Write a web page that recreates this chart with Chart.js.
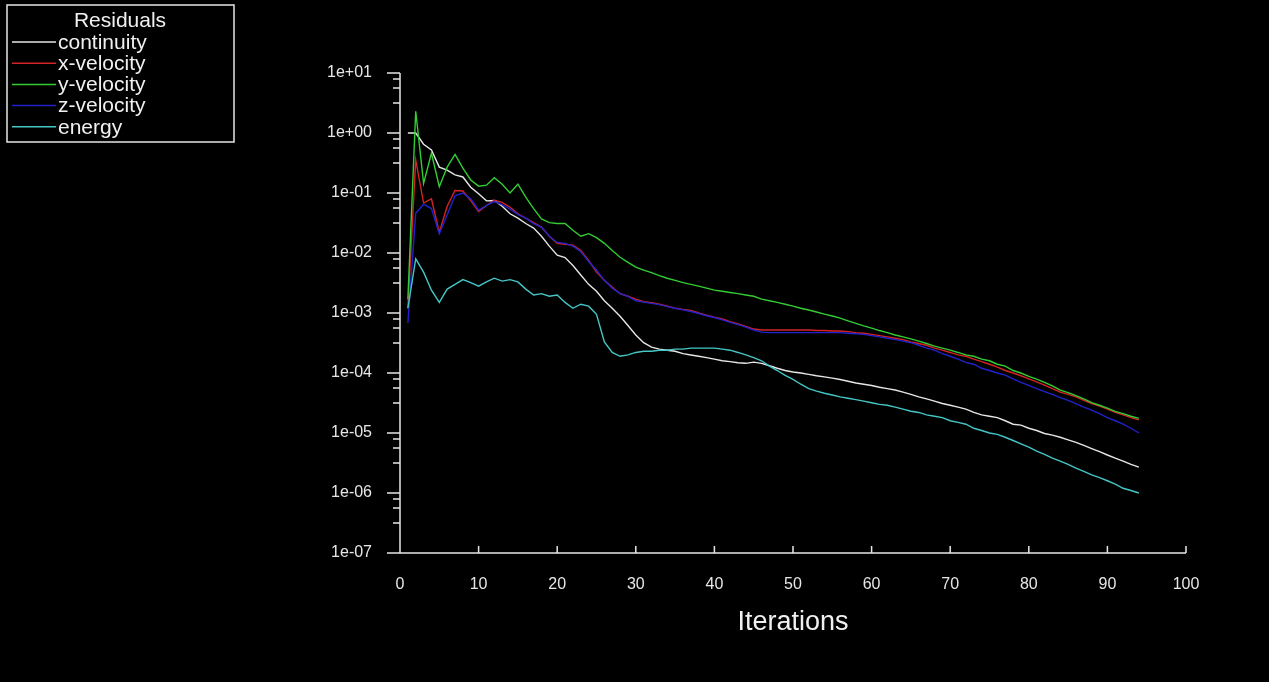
<!DOCTYPE html>
<html>
<head>
<meta charset="utf-8">
<script src="https://cdn.jsdelivr.net/npm/chart.js@4/dist/chart.umd.min.js"></script>
<style>
  html, body { margin: 0; padding: 0; background: #000; }
  #wrap { width: 1269px; height: 682px; }
</style>
</head>
<body>
<div id="wrap"><canvas id="residuals"></canvas></div>
<script>
// residual history, one value per iteration
var iterations = [1, 2, 3, 4, 5, 6, 7, 8, 9, 10, 11, 12, 13, 14, 15, 16, 17, 18, 19, 20,
  21, 22, 23, 24, 25, 26, 27, 28, 29, 30, 31, 32, 33, 34, 35, 36, 37, 38, 39, 40,
  41, 42, 43, 44, 45, 46, 47, 48, 49, 50, 51, 52, 53, 54, 55, 56, 57, 58, 59, 60,
  61, 62, 63, 64, 65, 66, 67, 68, 69, 70, 71, 72, 73, 74, 75, 76, 77, 78, 79, 80,
  81, 82, 83, 84, 85, 86, 87, 88, 89, 90, 91, 92, 93, 94];

var continuity = [1.0, 1.0, 0.65, 0.52, 0.27, 0.24, 0.2, 0.185, 0.125, 0.097,
  0.074, 0.075, 0.06, 0.045, 0.038, 0.031, 0.026, 0.019, 0.013, 0.0092,
  0.0084, 0.0062, 0.0043, 0.003, 0.0023, 0.0016, 0.0012, 0.00088, 0.00062, 0.00043,
  0.00032, 0.00027, 0.00025, 0.00024, 0.00023, 0.00021, 0.0002, 0.00019, 0.00018, 0.00017,
  0.00016, 0.000155, 0.000148, 0.000145, 0.000152, 0.000145, 0.000132, 0.00012, 0.00011, 0.000104,
  0.0001, 0.000095, 0.00009, 0.000086, 0.000082, 0.000078, 0.000073, 0.000068, 0.000065, 0.000062,
  0.000058, 0.000055, 0.000052, 0.000048, 0.000044, 0.00004, 0.000037, 0.000034, 0.000031, 0.000029,
  0.000027, 0.000025, 0.000022, 0.00002, 0.000019, 0.000018, 0.000016, 0.000014, 0.0000135, 0.000012,
  0.000011, 0.0000098, 0.0000092, 0.0000085, 0.0000077, 0.000007, 0.0000062, 0.0000055, 0.0000049, 0.0000043,
  0.0000038, 0.0000034, 0.000003, 0.0000027];

var xVelocity = [0.0012, 0.355, 0.068, 0.08, 0.022, 0.06, 0.11, 0.108, 0.075, 0.049,
  0.062, 0.076, 0.07, 0.058, 0.045, 0.038, 0.032, 0.027, 0.019, 0.0145,
  0.014, 0.0135, 0.011, 0.0075, 0.0048, 0.0035, 0.0027, 0.0021, 0.0019, 0.0017,
  0.00155, 0.00148, 0.0014, 0.0013, 0.0012, 0.00115, 0.0011, 0.001, 0.00092, 0.00085,
  0.0008, 0.00072, 0.00066, 0.0006, 0.00054, 0.00052, 0.00052, 0.00052, 0.00052, 0.00052,
  0.00052, 0.00052, 0.00051, 0.00051, 0.0005, 0.0005, 0.00049, 0.00047, 0.00046, 0.00044,
  0.00042, 0.0004, 0.00038, 0.00036, 0.00033, 0.00031, 0.00029, 0.00026, 0.00024, 0.00022,
  0.0002, 0.00019, 0.00017, 0.000155, 0.00014, 0.000125, 0.00011, 0.0001, 0.00009, 0.00008,
  0.000071, 0.000063, 0.000055, 0.000048, 0.000044, 0.00004, 0.000035, 0.000031, 0.000028, 0.000025,
  0.000022, 0.00002, 0.000018, 0.0000165];

var yVelocity = [0.0017, 2.3, 0.145, 0.46, 0.127, 0.27, 0.44, 0.26, 0.165, 0.13,
  0.135, 0.18, 0.14, 0.1, 0.14, 0.085, 0.055, 0.037, 0.032, 0.031,
  0.031, 0.024, 0.019, 0.021, 0.018, 0.0145, 0.011, 0.0085, 0.007, 0.0058,
  0.0052, 0.0047, 0.0042, 0.0038, 0.0035, 0.0032, 0.003, 0.0028, 0.0026, 0.0024,
  0.0023, 0.0022, 0.0021, 0.002, 0.0019, 0.0017, 0.0016, 0.0015, 0.0014, 0.0013,
  0.0012, 0.00112, 0.00104, 0.00096, 0.00089, 0.00082, 0.00074, 0.00067, 0.00061, 0.00056,
  0.00051, 0.00047, 0.00043, 0.0004, 0.00037, 0.00034, 0.00031, 0.00028, 0.00026, 0.00024,
  0.00022, 0.0002, 0.00019, 0.00017, 0.00016, 0.00014, 0.00013, 0.00011, 0.0001, 0.000088,
  0.000079, 0.00007, 0.000061, 0.000052, 0.000047, 0.000042, 0.000037, 0.000032, 0.000029, 0.000026,
  0.000023, 0.000021, 0.000019, 0.0000175];

var zVelocity = [0.00068, 0.046, 0.065, 0.055, 0.021, 0.043, 0.09, 0.1, 0.08, 0.052,
  0.062, 0.072, 0.064, 0.054, 0.044, 0.038, 0.031, 0.027, 0.019, 0.015,
  0.0145, 0.013, 0.0105, 0.0072, 0.0052, 0.0035, 0.0026, 0.0021, 0.0019, 0.0016,
  0.00152, 0.00145, 0.00138, 0.00128, 0.0012, 0.00113, 0.00106, 0.00098, 0.0009, 0.00084,
  0.00077, 0.0007, 0.00064, 0.00058, 0.00052, 0.00048, 0.00047, 0.00047, 0.00047, 0.00047,
  0.00047, 0.00047, 0.00047, 0.00047, 0.00047, 0.00047, 0.00046, 0.00045, 0.00044, 0.00042,
  0.0004, 0.00038, 0.00036, 0.00034, 0.00032, 0.00029, 0.00026, 0.00024, 0.00021, 0.00019,
  0.00017, 0.00015, 0.00014, 0.00012, 0.00011, 0.0001, 0.000092, 0.00008, 0.00007, 0.000062,
  0.000055, 0.000049, 0.000044, 0.000039, 0.000035, 0.000031, 0.000027, 0.000024, 0.000021, 0.000018,
  0.000016, 0.000014, 0.000012, 0.00001];

var energy = [0.0012, 0.008, 0.0048, 0.0024, 0.0015, 0.0025, 0.003, 0.0036, 0.0032, 0.0028,
  0.0033, 0.0038, 0.0034, 0.0036, 0.0033, 0.0025, 0.002, 0.0021, 0.0019, 0.002,
  0.0015, 0.0012, 0.0014, 0.0013, 0.00095, 0.00033, 0.00022, 0.00019, 0.0002, 0.00022,
  0.00023, 0.00023, 0.00024, 0.00024, 0.00025, 0.00025, 0.00026, 0.00026, 0.00026, 0.00026,
  0.00025, 0.00024, 0.00022, 0.0002, 0.00018, 0.00016, 0.00013, 0.00011, 0.000091, 0.000078,
  0.000065, 0.000055, 0.00005, 0.000046, 0.000043, 0.00004, 0.000038, 0.000036, 0.000034, 0.000032,
  0.00003, 0.000029, 0.000027, 0.000025, 0.000023, 0.000022, 0.00002, 0.000019, 0.000018, 0.000016,
  0.000015, 0.000014, 0.000012, 0.000011, 0.00001, 0.0000095, 0.0000085, 0.0000075, 0.0000066, 0.0000058,
  0.000005, 0.0000044, 0.0000038, 0.0000034, 0.000003, 0.0000026, 0.0000023, 0.000002, 0.0000018, 0.0000016,
  0.0000014, 0.0000012, 0.0000011, 0.000001];

var seriesNames = ['continuity', 'x-velocity', 'y-velocity', 'z-velocity', 'energy'];
var seriesColors = ['#e6e6e6', '#d42323', '#33cc33', '#2222cc', '#45c6c6'];
var xTicks = [0, 10, 20, 30, 40, 50, 60, 70, 80, 90, 100];
var decades = [1, 0, -1, -2, -3, -4, -5, -6, -7];

var FONT = "'Liberation Sans', Arial, sans-serif";

function points(values) {
    return iterations.map((it, i) => ({x: it, y: values[i]}));
}

function expLabel(v) {
    var e = Math.log10(v);
    var r = Math.round(e);
    if (Math.abs(e - r) > 1e-6) return '';
    var s = r < 0 ? '-' : '+';
    var a = Math.abs(r);
    return '1e' + s + (a < 10 ? '0' + a : a);
}

// black background, axis lines and tick marks
var axesPlugin = {
    id: 'axesPlugin',
    beforeDraw(chart) {
        var ctx = chart.ctx;
        ctx.save();
        ctx.fillStyle = '#000';
        ctx.fillRect(0, 0, chart.width, chart.height);
        ctx.restore();
    },
    afterDraw(chart) {
        var ctx = chart.ctx;
        var xs = chart.scales.x, ys = chart.scales.y;
        var a = chart.chartArea;
        ctx.save();
        ctx.strokeStyle = '#e6e6e6';
        ctx.lineWidth = 1.5;
        ctx.beginPath();
        ctx.moveTo(a.left, a.top);
        ctx.lineTo(a.left, a.bottom);
        ctx.lineTo(a.right, a.bottom);
        // x ticks point up into the plot
        xTicks.forEach(function (t) {
            var px = xs.getPixelForValue(t);
            ctx.moveTo(px, a.bottom);
            ctx.lineTo(px, a.bottom - 7);
        });
        // y ticks point left: long at each decade, short ones inside it
        decades.forEach(function (d) {
            var py = ys.getPixelForValue(Math.pow(10, d));
            ctx.moveTo(a.left, py);
            ctx.lineTo(a.left - 13, py);
            if (d > -7) {
                [0.1, 0.25, 0.5].forEach(function (f) {
                    var my = ys.getPixelForValue(Math.pow(10, d - f));
                    ctx.moveTo(a.left, my);
                    ctx.lineTo(a.left - 7, my);
                });
            }
        });
        ctx.stroke();
        ctx.restore();
    }
};

// boxed legend in the top-left corner
var boxLegend = {
    id: 'boxLegend',
    afterDraw(chart) {
        var ctx = chart.ctx;
        ctx.save();
        ctx.strokeStyle = '#e6e6e6';
        ctx.lineWidth = 1.5;
        ctx.strokeRect(7, 5, 227, 137);
        ctx.fillStyle = '#f0f0f0';
        ctx.textBaseline = 'middle';
        ctx.font = '21px ' + FONT;
        ctx.textAlign = 'center';
        ctx.fillText('Residuals', 120, 21);
        ctx.textAlign = 'left';
        chart.data.datasets.forEach(function (ds, i) {
            var y = 42 + i * 21.2;
            ctx.strokeStyle = ds.borderColor;
            ctx.lineWidth = 1.5;
            ctx.beginPath();
            ctx.moveTo(12, y);
            ctx.lineTo(56, y);
            ctx.stroke();
            ctx.fillText(ds.label, 58, y + 1);
        });
        ctx.restore();
    }
};

var seriesData = [continuity, xVelocity, yVelocity, zVelocity, energy];

var chart = new Chart(document.getElementById('residuals'), {
    type: 'line',
    data: {
        datasets: seriesNames.map((name, i) => ({
            label: name,
            data: points(seriesData[i]),
            borderColor: seriesColors[i],
            backgroundColor: seriesColors[i],
            borderWidth: 1.4,
            pointRadius: 0,
            tension: 0,
            fill: false,
            order: seriesNames.length - i
        }))
    },
    options: {
        responsive: true,
        maintainAspectRatio: false,
        animation: false,
        layout: { padding: { left: 300, right: 83, top: 73, bottom: 0 } },
        plugins: {
            legend: { display: false },
            tooltip: { enabled: false }
        },
        scales: {
            x: {
                type: 'linear',
                min: 0,
                max: 100,
                grid: { display: false, drawTicks: false },
                border: { display: false },
                ticks: {
                    stepSize: 10,
                    color: '#e6e6e6',
                    padding: 22,
                    font: { family: FONT, size: 16 }
                },
                title: {
                    display: true,
                    text: 'Iterations',
                    color: '#f0f0f0',
                    font: { family: FONT, size: 27 },
                    padding: { top: 43, bottom: 43 }
                },
                afterFit(scale) { scale.height = 129; }
            },
            y: {
                type: 'logarithmic',
                min: 1e-7,
                max: 10,
                grid: { display: false, drawTicks: false },
                border: { display: false },
                ticks: {
                    autoSkip: false,
                    color: '#e6e6e6',
                    padding: 28,
                    font: { family: FONT, size: 16 },
                    callback: function (v) { return expLabel(v); }
                },
                afterFit(scale) { scale.width = 100; }
            }
        }
    },
    plugins: [axesPlugin, boxLegend]
});
</script>
</body>
</html>
